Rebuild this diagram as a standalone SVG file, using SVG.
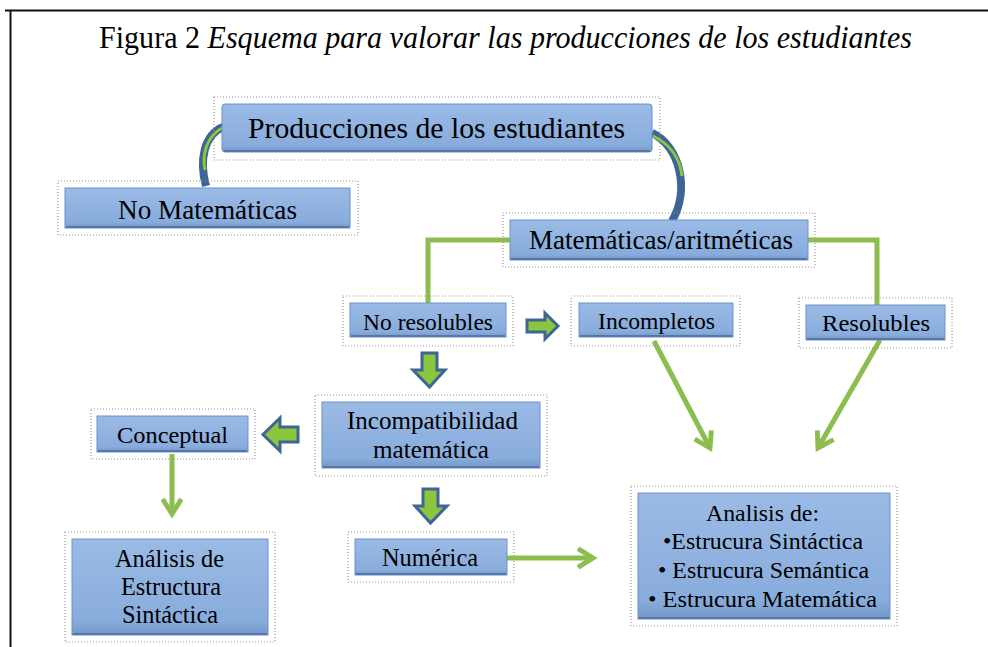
<svg xmlns="http://www.w3.org/2000/svg" width="988" height="647" viewBox="0 0 988 647">
<style>
text{font-family:"Liberation Serif","Times New Roman",serif;fill:#000;text-anchor:middle}
.box{fill:url(#bg);stroke:#6f92c4;stroke-width:1}
.edge{fill:none;stroke:#5877a8;stroke-width:2}
.dot{fill:none;stroke:#9a9a9a;stroke-width:1.2;stroke-dasharray:1 2}
.gl{fill:none;stroke:#8cbd4f;stroke-width:5}
.blk{fill:#8cc63f;stroke:#3d6596;stroke-width:3;stroke-linejoin:miter}
</style>
<defs>
<linearGradient id="bg" x1="0" y1="0" x2="0" y2="1">
<stop offset="0" stop-color="#9bbbe6"/>
<stop offset="0.85" stop-color="#88acdc"/>
<stop offset="1" stop-color="#7397c8"/>
</linearGradient>
<marker id="chev" viewBox="0 0 12 12" refX="9" refY="6" markerWidth="4.5" markerHeight="4.5" orient="auto" markerUnits="strokeWidth">
<path d="M1,1 L9,6 L1,11" fill="none" stroke="#8cbd4f" stroke-width="2.6"/>
</marker>
</defs>

<rect width="988" height="647" fill="#fff"/>
<g id="frame">
<line x1="5" y1="10.5" x2="988" y2="10.5" stroke="#111" stroke-width="2"/>
<line x1="10.5" y1="10" x2="10.5" y2="647" stroke="#111" stroke-width="2"/>
</g>

<text id="title" x="99" y="48" font-size="32" style="text-anchor:start" textLength="813" lengthAdjust="spacingAndGlyphs">Figura 2 <tspan font-style="italic">Esquema para valorar las producciones de los estudiantes</tspan></text>

<g id="connectors">
<path d="M223,127 C204,135 199,160 206,186" fill="none" stroke="#3d6596" stroke-width="8"/>
<path d="M222,128 C206,137 202,155 205,170" fill="none" stroke="#8cc63f" stroke-width="3"/>
<path d="M652,133 C680,146 690,190 672,221" fill="none" stroke="#3d6596" stroke-width="8"/>
<path d="M653,136 C672,145 680,160 682,176" fill="none" stroke="#8cc63f" stroke-width="3"/>
<path class="gl" d="M511,240 H428 V304"/>
<path class="gl" d="M808,240 H877 V306"/>
<path class="blk" d="M527,320 H545 V313 L558,326 L545,339 V332 H527 Z"/>
<path class="blk" d="M422,353 H437 V370 H445 L429.5,387 L413,370 H422 Z"/>
<path class="blk" d="M298,427 H280 V418 L263,434.5 L280,451 V442 H298 Z"/>
<path class="blk" d="M423,489 H438 V506 H447 L430.5,523 L415,506 H423 Z"/>
<path class="gl" d="M172,454 V514" marker-end="url(#chev)"/>
<path class="gl" d="M507,558 H593" marker-end="url(#chev)"/>
<path class="gl" d="M654,341 L710,448" marker-end="url(#chev)"/>
<path class="gl" d="M880,340 L818,448" marker-end="url(#chev)"/>
</g>

<g id="n-producciones">
<rect class="dot" x="214" y="97" width="446" height="63"/>
<rect class="box" x="222" y="104" width="430" height="48" rx="3"/>
<line class="edge" x1="224" y1="151" x2="650" y2="151"/>
<text x="436.5" y="138" font-size="30" textLength="377" lengthAdjust="spacingAndGlyphs">Producciones de los estudiantes</text>
</g>

<g id="n-nomat">
<rect class="dot" x="58" y="181" width="300" height="54"/>
<rect class="box" x="65" y="188" width="285" height="40"/>
<line class="edge" x1="66" y1="227" x2="349" y2="227"/>
<text x="207.5" y="219" font-size="27" textLength="179" lengthAdjust="spacingAndGlyphs">No Matemáticas</text>
</g>

<g id="n-mat">
<rect class="dot" x="503" y="213" width="312" height="54"/>
<rect class="box" x="510" y="220" width="298" height="40"/>
<line class="edge" x1="511" y1="259" x2="807" y2="259"/>
<text x="661" y="249" font-size="27" textLength="264" lengthAdjust="spacingAndGlyphs">Matemáticas/aritméticas</text>
</g>

<g id="n-noresol">
<rect class="dot" x="343" y="296" width="170" height="50"/>
<rect class="box" x="350" y="303" width="156" height="34"/>
<line class="edge" x1="351" y1="336" x2="505" y2="336"/>
<text x="428" y="330" font-size="23.5" textLength="130" lengthAdjust="spacingAndGlyphs">No resolubles</text>
</g>

<g id="n-incompletos">
<rect class="dot" x="571" y="296" width="169" height="50"/>
<rect class="box" x="579" y="303" width="154" height="34"/>
<line class="edge" x1="580" y1="336" x2="732" y2="336"/>
<text x="656.5" y="329" font-size="23.5" textLength="117" lengthAdjust="spacingAndGlyphs">Incompletos</text>
</g>

<g id="n-resolubles">
<rect class="dot" x="799" y="298" width="153" height="50"/>
<rect class="box" x="806" y="305" width="139" height="35"/>
<line class="edge" x1="807" y1="339" x2="944" y2="339"/>
<text x="876" y="331" font-size="24" textLength="108" lengthAdjust="spacingAndGlyphs">Resolubles</text>
</g>

<g id="n-incompat">
<rect class="dot" x="315" y="395" width="232" height="81"/>
<rect class="box" x="322" y="402" width="218" height="66"/>
<line class="edge" x1="323" y1="467" x2="539" y2="467"/>
<text x="432.5" y="429" font-size="25" textLength="171" lengthAdjust="spacingAndGlyphs">Incompatibilidad</text>
<text x="431" y="458" font-size="25" textLength="116" lengthAdjust="spacingAndGlyphs">matemática</text>
</g>

<g id="n-conceptual">
<rect class="dot" x="91" y="409" width="164" height="50"/>
<rect class="box" x="97" y="416" width="151" height="36"/>
<line class="edge" x1="98" y1="451" x2="247" y2="451"/>
<text x="172.5" y="443" font-size="24" textLength="111" lengthAdjust="spacingAndGlyphs">Conceptual</text>
</g>

<g id="n-analisis1">
<rect class="dot" x="65" y="532" width="210" height="110"/>
<rect class="box" x="72" y="539" width="196" height="96"/>
<line class="edge" x1="73" y1="634" x2="267" y2="634"/>
<text x="169.5" y="567" font-size="24.5" textLength="109" lengthAdjust="spacingAndGlyphs">Análisis de</text>
<text x="171" y="595" font-size="24.5" textLength="100" lengthAdjust="spacingAndGlyphs">Estructura</text>
<text x="170" y="623" font-size="24.5" textLength="96" lengthAdjust="spacingAndGlyphs">Sintáctica</text>
</g>

<g id="n-numerica">
<rect class="dot" x="348" y="532" width="166" height="50"/>
<rect class="box" x="355" y="539" width="152" height="36"/>
<line class="edge" x1="356" y1="574" x2="506" y2="574"/>
<text x="430" y="566" font-size="24.5" textLength="96" lengthAdjust="spacingAndGlyphs">Numérica</text>
</g>

<g id="n-analisis2">
<rect class="dot" x="631" y="486" width="266" height="140"/>
<rect class="box" x="638" y="493" width="252" height="126"/>
<line class="edge" x1="639" y1="618" x2="889" y2="618"/>
<text x="762.5" y="521" font-size="24" textLength="113" lengthAdjust="spacingAndGlyphs">Analisis de:</text>
<text x="763" y="549" font-size="24" textLength="200" lengthAdjust="spacingAndGlyphs">•Estrucura Sintáctica</text>
<text x="763.5" y="578" font-size="24" textLength="211" lengthAdjust="spacingAndGlyphs">• Estrucura Semántica</text>
<text x="762.5" y="607" font-size="24" textLength="229" lengthAdjust="spacingAndGlyphs">• Estrucura Matemática</text>
</g>
</svg>
